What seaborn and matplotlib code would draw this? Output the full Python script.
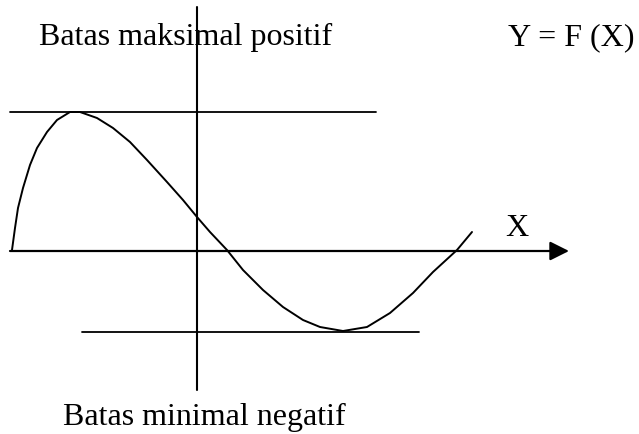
import matplotlib
matplotlib.use("Agg")
import matplotlib.pyplot as plt
import seaborn as sns
import pandas as pd

# curve, origin at the crossing of the two axes (pixel units, y up)
curve_x = [-185, -182, -179, -174, -167, -160, -150, -140, -127, -117, -100, -84, -67, -50,
           -30, -14, 0, 13, 30, 46, 66, 86, 106, 123, 146, 170, 193, 216, 236, 260, 275]
curve_y = [1, 23, 43, 63, 86, 103, 119, 131, 139, 139, 133, 123, 109, 91,
           69, 51, 34, 19, 1, -19, -39, -56, -69, -76, -80, -76, -62, -42, -21, 1, 19]

# limit lines and axes
upper_limit = 139
upper_span = [-187, 179]
lower_limit = -81
lower_span = [-115, 222]
y_axis_span = [-139, 244]
x_axis_span = [-187, 372]

labels = {
    "top": "Batas maksimal positif",
    "func": "Y = F (X)",
    "xname": "X",
    "bottom": "Batas minimal negatif",
}

sns.set_theme(style="white")
plt.rcParams['font.family'] = ['Liberation Serif', 'DejaVu Serif']

fig = plt.figure(figsize=(6.39, 4.34), dpi=100)
ax = fig.add_axes([0, 0, 1, 1])

df = pd.DataFrame({"x": curve_x, "y": curve_y})
sns.lineplot(data=df, x="x", y="y", sort=False, color="black", linewidth=1.4,
             solid_joinstyle="round", ax=ax)

ax.plot(upper_span, [upper_limit, upper_limit], color="black", linewidth=1.3)
ax.plot(lower_span, [lower_limit, lower_limit], color="black", linewidth=1.3)
ax.plot([0, 0], y_axis_span, color="black", linewidth=1.5)
ax.annotate("", xy=(x_axis_span[1], 0), xytext=(x_axis_span[0], 0),
            arrowprops=dict(arrowstyle="-|>,head_length=0.4,head_width=0.2", mutation_scale=29,
                            color="black", lw=1.6, shrinkA=0, shrinkB=0))

fs = 23
ax.text(-158, 206, labels["top"], fontsize=fs, color="black", ha="left", va="baseline")
ax.text(311, 206, labels["func"], fontsize=fs, color="black", ha="left", va="baseline")
ax.text(308, 15, labels["xname"], fontsize=fs, color="black", ha="left", va="baseline")
ax.text(-134, -174, labels["bottom"], fontsize=fs, color="black", ha="left", va="baseline")

ax.set_xlim(-197, 442)
ax.set_ylim(-183, 251)
ax.axis("off")

fig.savefig("out.png", dpi=100, facecolor="white")
